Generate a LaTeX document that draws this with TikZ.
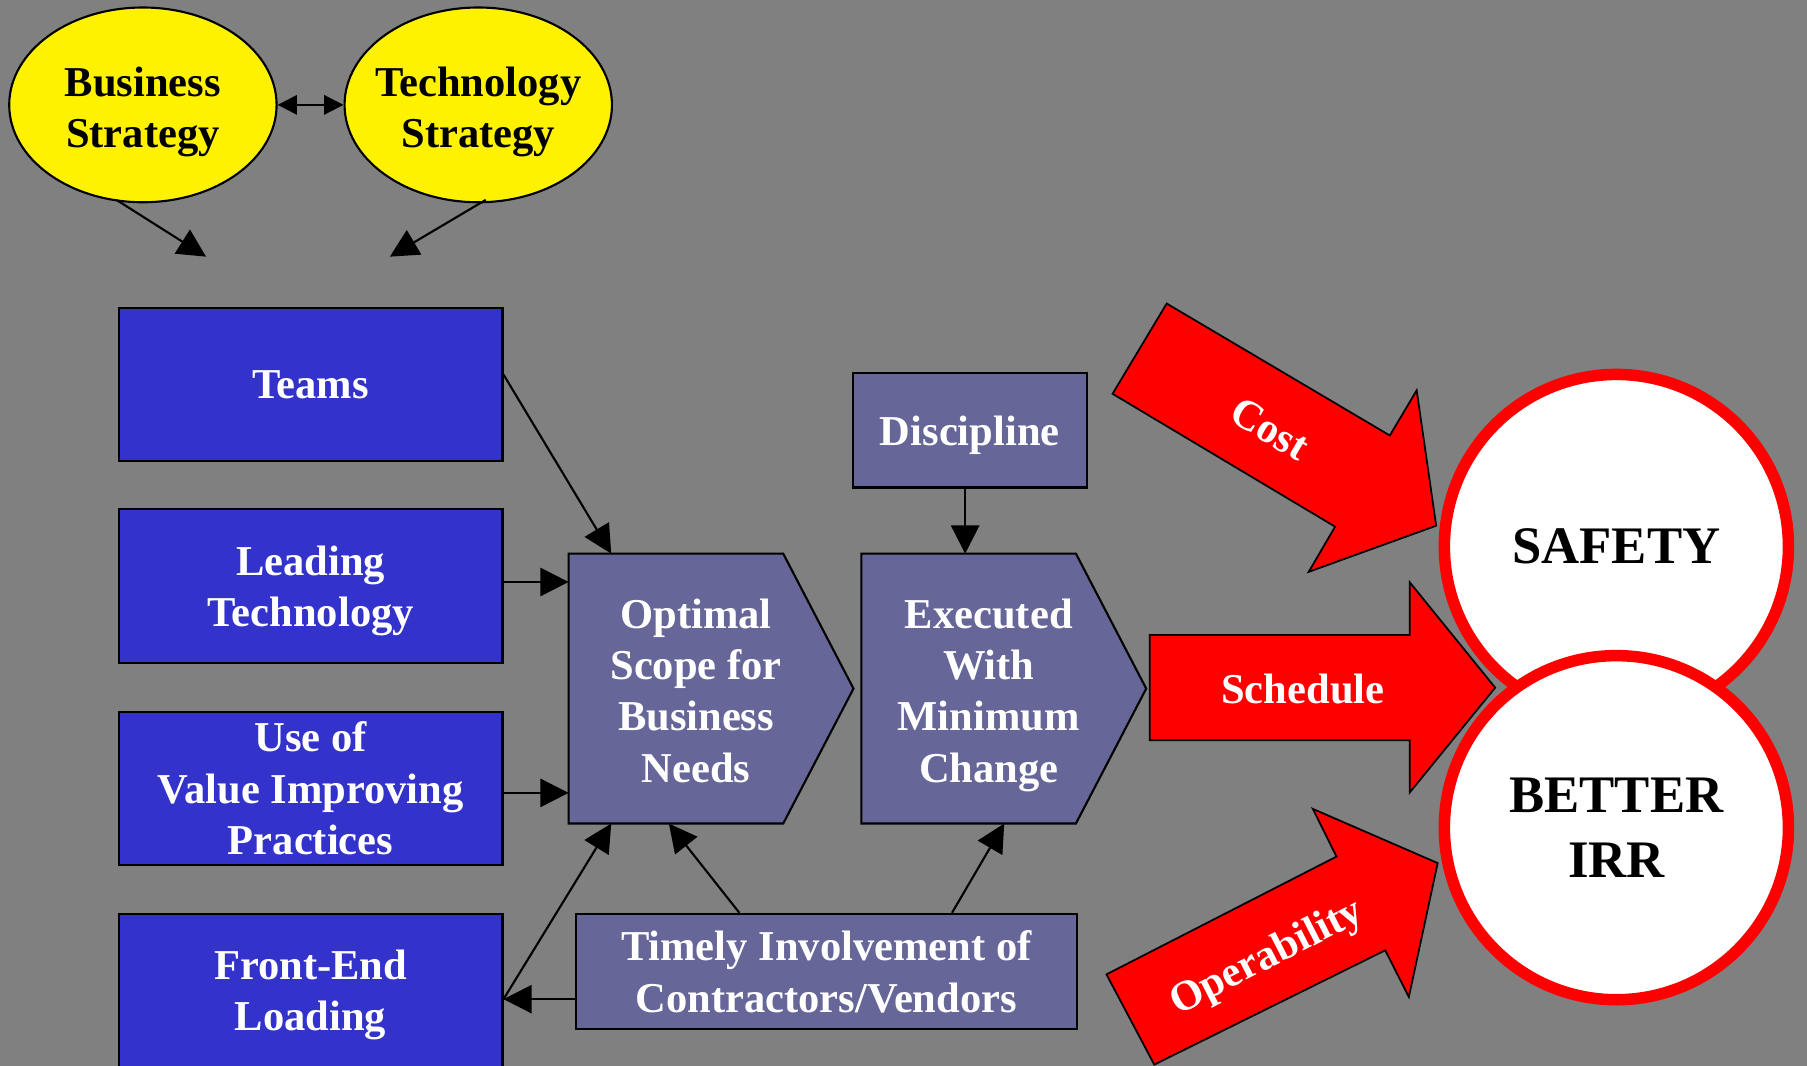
\documentclass[tikz,border=0pt]{standalone}
\usepackage{fontspec}
\setmainfont{Liberation Serif}
\usetikzlibrary{shapes.geometric,arrows.meta,calc}
\definecolor{bg}{HTML}{808080}
\definecolor{boxblue}{HTML}{3333CC}
\definecolor{boxslate}{HTML}{666699}
\definecolor{goal}{HTML}{FF0000}
\newcommand{\du}{0.011524cm}
\tikzset{
  % descenders do not count when a text is centred in its shape
  txt/.style={font=\fontsize{12.1}{14.6}\selectfont\bfseries, align=center, inner sep=0pt,
    text depth=0pt},
  bigtxt/.style={font=\fontsize{15}{18.4}\selectfont\bfseries, align=center, inner sep=0pt,
    text depth=0pt},
  strategy/.style={ellipse, draw=black, line width=0.6pt, fill=yellow,
    minimum width=232*\du, minimum height=169*\du, inner sep=0pt},
  bluebox/.style={rectangle, draw=black, line width=0.6pt, fill=boxblue, text=white, txt,
    minimum width=333*\du, minimum height=133*\du},
  slatebox/.style={rectangle, draw=black, line width=0.6pt, fill=boxslate, text=white, txt},
  frame/.style={rectangle, inner sep=0pt, minimum width=246*\du, minimum height=233*\du},
  pentagon/.style={draw=black, line width=0.6pt, fill=boxslate},
  redarrow/.style={fill=goal, draw=black, line width=0.5pt, line join=miter},
  goalcircle/.style={circle, draw=goal, line width=10*\du, fill=white, text=black, bigtxt,
    minimum size=298.6*\du},
  link/.style={draw=black, line width=0.6pt},
  tip/.style={-{Triangle[length=8pt,width=8pt]}},
}
\begin{document}
\begin{tikzpicture}[x=\du, y=-\du]
\useasboundingbox (0,0) rectangle (1568,925);
\clip (0,0) rectangle (1568,925);
\fill[bg] (0,0) rectangle (1568,925);

% strategies
\node[strategy] (bs) at (124,91) {};
\node[txt] (bsText) at ($(bs.center)+(0,2)$) {Business\\Strategy};
\node[strategy] (ts) at (415,91) {};
\node[txt] (tsText) at ($(ts.center)+(0,2)$) {Technology\\Strategy};
\draw[link, {Triangle[length=5.5pt,width=5.5pt]}-{Triangle[length=5.5pt,width=5.5pt]}]
  (bs.east) -- (ts.west);
\coordinate (bsEnd) at (178.8,222.7);
\coordinate (tsEnd) at (338.3,222.7);
\draw[link, tip] ($(bs.south)+(-23,-3)$) -- (bsEnd);
\draw[link, tip] ($(ts.south)+(6.5,-3)$) -- (tsEnd);

% enablers
\node[bluebox] (teams) at (269.5,333.5) {Teams};
\node[bluebox] (lead) at (269.5,508.5) {Leading\\Technology};
\node[bluebox] (vip) at (269.5,684) {Use of\\Value Improving\\Practices};
\node[bluebox] (fel) at (269.5,859.5) {Front-End\\Loading};

% scope and execution
\node[frame] (opt) at (617,597.5) {};
\draw[pentagon] (opt.north west) -- ($(opt.north east)+(-61,0)$) -- (opt.east)
  -- ($(opt.south east)+(-61,0)$) -- (opt.south west) -- cycle;
\node[txt, text=white] (optText) at (604,599) {Optimal\\Scope for\\Business\\Needs};

\node[frame] (exec) at (871,597.5) {};
\draw[pentagon] (exec.north west) -- ($(exec.north east)+(-61,0)$) -- (exec.east)
  -- ($(exec.south east)+(-61,0)$) -- (exec.south west) -- cycle;
\node[txt, text=white] (execText) at (858,599) {Executed\\With\\Minimum\\Change};

\node[slatebox, minimum width=203*\du, minimum height=99*\du] (disc) at (841.5,373.5) {Discipline};
\node[slatebox, minimum width=435*\du, minimum height=100*\du] (timely) at (717,843)
  {Timely Involvement of\\Contractors/Vendors};

% connectors
\draw[link, tip] ($(teams.east)+(0,-8.5)$) -- ($(opt.north west)+(37,0)$);
\draw[link, tip] ($(lead.east)+(0,-3.5)$) coordinate (leadOut) -- (leadOut -| opt.west);
\draw[link, tip] ($(vip.east)+(0,4)$) coordinate (vipOut) -- (vipOut -| opt.west);
\coordinate (felPort) at ($(fel.east)+(0,7.5)$);
\draw[link, tip] (felPort) -- ($(opt.south west)+(37,0)$);
\draw[link, tip] (felPort -| timely.west) -- (felPort);
\draw[link, tip] ($(timely.north west)+(143,0)$) -- ($(opt.south west)+(87,0)$);
\draw[link, tip] ($(timely.north west)+(327.5,0)$) -- ($(exec.south west)+(124,0)$);
\draw[link, tip] ($(disc.south)+(-4,0)$) coordinate (discOut) -- (discOut |- exec.north);

% outcome arrows
\draw[redarrow] (1012.4,263.4) -- (1206.0,377.9) -- (1229.3,338.7) -- (1246.2,456.2)
  -- (1135.6,496.2) -- (1158.5,457.0) -- (965.4,341.7) -- cycle;
\node[txt, text=white, rotate=-30.6] (costText) at (1102,372) {Cost};
\draw[redarrow] (997.6,551) -- (1223.3,551) -- (1223.3,505.3) -- (1297.4,596.7)
  -- (1223.3,687.6) -- (1223.3,642.3) -- (997.6,642.3) -- cycle;
\node[txt, text=white] (schedText) at (1130.5,598) {Schedule};
\draw[redarrow] (960.1,845.5) -- (1159.7,743.3) -- (1139.2,701.9) -- (1247.5,748.9)
  -- (1222.5,865.1) -- (1202.0,824.6) -- (1001.6,923.8) -- cycle;
\node[txt, text=white, rotate=27.1] (operText) at (1098,828) {Operability};

% goals
\node[goalcircle] (safety) at (1402.6,474.2) {SAFETY};
\node[goalcircle] (irr) at (1402.6,718.2) {BETTER\\IRR};
\end{tikzpicture}
\end{document}
